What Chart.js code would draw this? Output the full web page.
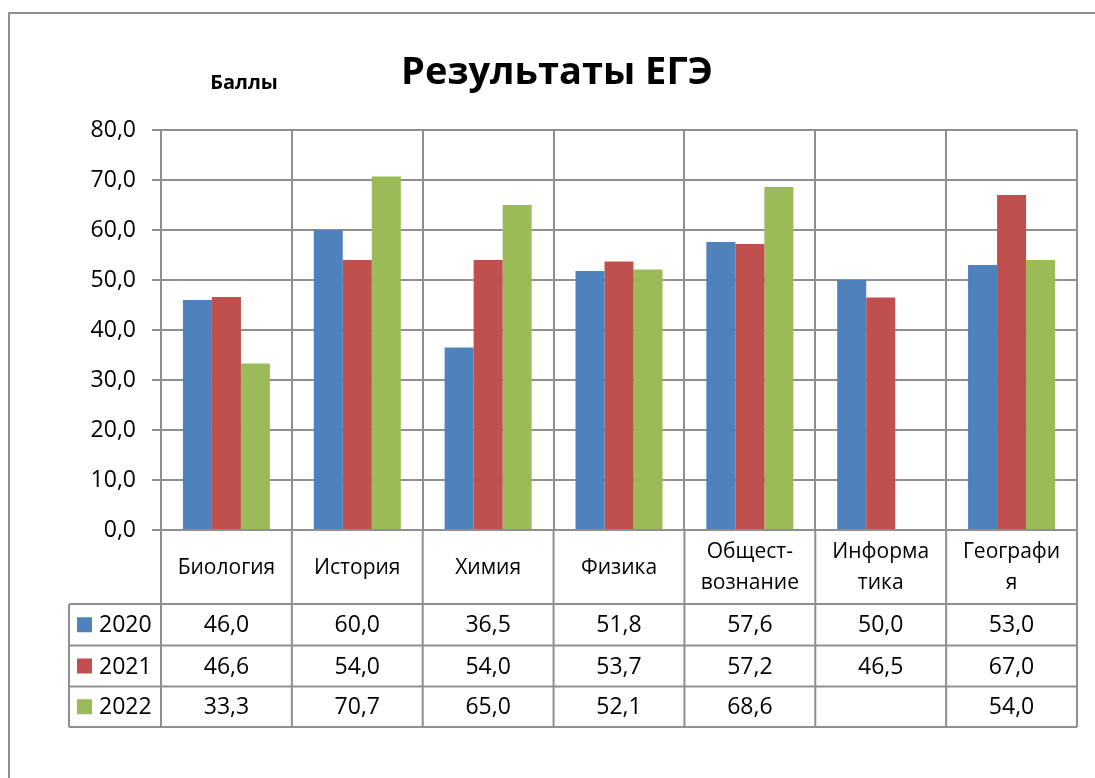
<!DOCTYPE html>
<html>
<head>
<meta charset="utf-8">
<script src="https://cdn.jsdelivr.net/npm/chart.js@4/dist/chart.umd.min.js"></script>
<style>
html,body{margin:0;padding:0;background:#fff;}
#wrap{width:1095px;height:778px;position:relative;}
</style>
</head>
<body>
<div id="wrap"><canvas id="c" width="1095" height="778"></canvas></div>
<script>
const categories = [["Биология"], ["История"], ["Химия"], ["Физика"], ["Общест-", "вознание"], ["Информа", "тика"], ["Географи", "я"]];
const seriesNames = ["2020", "2021", "2022"];
const values2020 = [46.0, 60.0, 36.5, 51.8, 57.6, 50.0, 53.0];
const values2021 = [46.6, 54.0, 54.0, 53.7, 57.2, 46.5, 67.0];
const values2022 = [33.3, 70.7, 65.0, 52.1, 68.6, null, 54.0];
const yTicks = [0, 10, 20, 30, 40, 50, 60, 70, 80];
const chartTitle = "Результаты ЕГЭ";
const axisTitle = "Баллы";

const colors = ["#4F81BD", "#C0504D", "#9BBB59"];
const gridColor = "#8f8f8f";
const FONT = "'Open Sans', 'DejaVu Sans', sans-serif";
const fmt = v => (v === null || v === undefined) ? "" : v.toFixed(1).replace(".", ",");

const seriesValues = [values2020, values2021, values2022];

const tablePlugin = {
  id: "tablePlugin",
  afterDraw(chart) {
    const ctx = chart.ctx;
    const x = chart.scales.x;
    const area = chart.chartArea;
    const n = categories.length;
    const catW = (area.right - area.left) / n;
    const labelTop = area.bottom;
    const rowTops = [604, 645.5, 686.5];
    const tableBottom = 727;
    const tableLeft = 69;
    ctx.save();
    // outer chart border
    ctx.strokeStyle = gridColor;
    ctx.lineWidth = 2;
    ctx.beginPath();
    ctx.moveTo(9, 800);
    ctx.lineTo(9, 13);
    ctx.lineTo(1100, 13);
    ctx.stroke();

    // titles
    ctx.fillStyle = "#000";
    ctx.textAlign = "center";
    ctx.textBaseline = "alphabetic";
    ctx.font = "bold 38px " + FONT;
    ctx.fillText(chartTitle, 557, 84);
    ctx.font = "bold 20px " + FONT;
    ctx.fillText(axisTitle, 244, 89);

    // table lines
    ctx.strokeStyle = gridColor;
    ctx.lineWidth = 2;
    ctx.beginPath();
    for (let i = 0; i <= n; i++) {
      const px = i < n ? x.getPixelForValue(i) - catW / 2 : x.getPixelForValue(n - 1) + catW / 2;
      ctx.moveTo(px, labelTop);
      ctx.lineTo(px, tableBottom);
    }
    ctx.moveTo(tableLeft, rowTops[0]);
    ctx.lineTo(tableLeft, tableBottom);
    [...rowTops, tableBottom].forEach(y => {
      ctx.moveTo(tableLeft, y);
      ctx.lineTo(area.right, y);
    });
    ctx.stroke();

    // category labels
    ctx.fillStyle = "#000";
    ctx.font = "21px " + FONT;
    ctx.textAlign = "center";
    ctx.textBaseline = "middle";
    const midLabel = (labelTop + rowTops[0]) / 2;
    categories.forEach((lines, i) => {
      const cx = x.getPixelForValue(i);
      const lh = 31;
      const start = midLabel - (lines.length - 1) * lh / 2;
      lines.forEach((t, k) => ctx.fillText(t, cx, start + k * lh + 1));
    });

    // rows
    ctx.font = "23px " + FONT;
    seriesNames.forEach((name, r) => {
      const top = rowTops[r];
      const bottom = r < rowTops.length - 1 ? rowTops[r + 1] : tableBottom;
      const cy = (top + bottom) / 2;
      ctx.fillStyle = colors[r];
      ctx.fillRect(77, cy - 7.5, 15, 15);
      ctx.fillStyle = "#000";
      ctx.textAlign = "left";
      ctx.fillText(name, 99, cy + 1);
      ctx.textAlign = "center";
      seriesValues[r].forEach((v, i) => {
        ctx.fillText(fmt(v), x.getPixelForValue(i), cy + 1);
      });
    });
    ctx.restore();
  }
};

new Chart(document.getElementById("c"), {
  type: "bar",
  data: {
    labels: categories.map(l => l.join(" ")),
    datasets: seriesNames.map((name, i) => ({
      label: name,
      data: seriesValues[i],
      backgroundColor: colors[i],
      borderWidth: 0,
      categoryPercentage: 0.665,
      barPercentage: 1.0
    }))
  },
  options: {
    responsive: false,
    animation: false,
    layout: { padding: { top: 130, right: 18, left: 0, bottom: 0 } },
    plugins: {
      legend: { display: false },
      title: { display: false },
      tooltip: { enabled: false }
    },
    scales: {
      x: {
        grid: { display: true, offset: true, color: gridColor, lineWidth: 2, drawTicks: false },
        border: { display: true, color: gridColor, width: 2 },
        ticks: { display: false },
        afterFit: s => { s.height = 778 - 530; }
      },
      y: {
        min: 0,
        max: 80,
        afterBuildTicks: s => { s.ticks = yTicks.map(v => ({ value: v })); },
        grid: { color: gridColor, lineWidth: 2, tickLength: 9, drawTicks: true },
        border: { display: true, color: gridColor, width: 2 },
        ticks: {
          padding: 16,
          color: "#000",
          font: { family: FONT, size: 23 },
          callback: v => fmt(v)
        },
        afterFit: s => { s.width = 161; }
      }
    }
  },
  plugins: [tablePlugin]
});
</script>
</body>
</html>
